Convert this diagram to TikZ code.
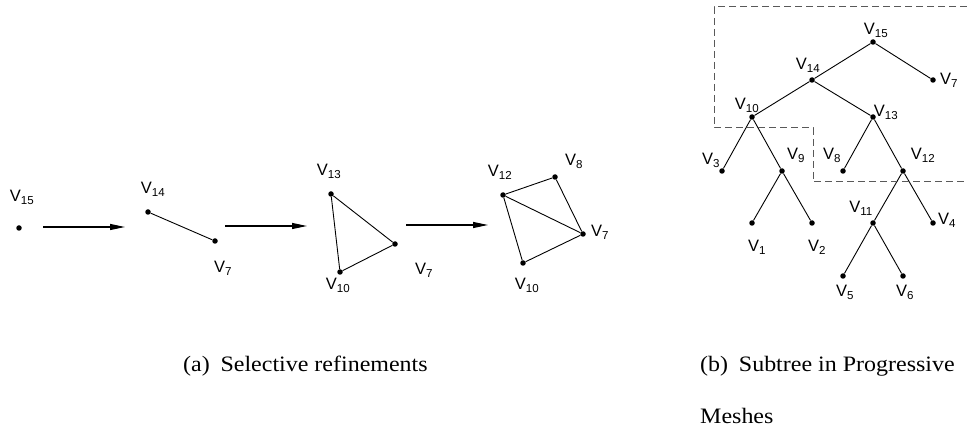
\documentclass[tikz,border=0pt]{standalone}
\usepackage{fontspec}
\setmainfont{Liberation Serif}
\newfontfamily\labfont{Liberation Sans}
\usepackage{tikz}
\usetikzlibrary{arrows.meta,positioning}
\newcommand{\vtx}[1]{V\textsubscript{#1}}
\newcommand{\captext}[1]{\scalebox{1.09}[1]{#1}}

\begin{document}
\begin{tikzpicture}[
    x=1pt, y=-1pt,
    vdot/.style={circle, fill=black, inner sep=0pt, minimum size=5.5pt},
    vlab/.style={anchor=base, inner sep=0pt, font=\labfont\fontsize{16.5}{18}\selectfont},
    edge/.style={line width=0.9pt},
    arr/.style={-{Triangle[length=15pt,width=6pt]}, line width=1.1pt},
    subtree/.style={draw=black!65, line width=1pt, dash pattern=on 7pt off 4pt},
    capt/.style={anchor=base west, inner sep=0pt, font=\fontsize{22}{25}\selectfont},
]
    \useasboundingbox (0,0) rectangle (967,430);

    % (a) Selective refinements
    \node[vdot] (a15) at (19,228) {};
    \node[vlab] (la15) at (22,202) {\vtx{15}};

    \node[vdot] (b14) at (148,212) {};
    \node[vdot] (b7) at (215,241) {};
    \node[vlab] (lb14) at (153,194) {\vtx{14}};
    \node[vlab] (lb7) at (223,273) {\vtx{7}};

    \node[vdot] (c13) at (331,194) {};
    \node[vdot] (c10) at (340,272) {};
    \node[vdot] (c7) at (395,244) {};
    \node[vlab] (lc13) at (329,176) {\vtx{13}};
    \node[vlab] (lc10) at (338,290) {\vtx{10}};
    \node[vlab] (lc7) at (424,275) {\vtx{7}};

    \node[vdot] (d12) at (503,195) {};
    \node[vdot] (d8) at (555,177) {};
    \node[vdot] (d7) at (583,234) {};
    \node[vdot] (d10) at (523,263) {};
    \node[vlab] (ld12) at (500,177) {\vtx{12}};
    \node[vlab] (ld8) at (574,166) {\vtx{8}};
    \node[vlab] (ld7) at (600,237) {\vtx{7}};
    \node[vlab] (ld10) at (527,290) {\vtx{10}};

    \draw[edge] (b14) -- (b7);
    \draw[edge] (c13) -- (c10) -- (c7) -- (c13);
    \draw[edge] (d12) -- (d8) -- (d7) -- (d10) -- (d12) -- (d7);

    % refinement arrows
    \coordinate (s1) at (43,227);  \coordinate (e1) at (125,227);
    \coordinate (s2) at (225,226); \coordinate (e2) at (307,226);
    \coordinate (s3) at (406,225); \coordinate (e3) at (488,225);
    \draw[arr] (s1) -- (e1);
    \draw[arr] (s2) -- (e2);
    \draw[arr] (s3) -- (e3);

    % (b) Subtree in Progressive Meshes
    \node[vdot] (t15) at (873,42) {};
    \node[vdot] (t14) at (812,80) {};
    \node[vdot] (t7) at (933,80) {};
    \node[vdot] (t10) at (752,117) {};
    \node[vdot] (t13) at (873,117) {};
    \node[vdot] (t3) at (722,171) {};
    \node[vdot] (t9) at (782,171) {};
    \node[vdot] (t8) at (843,171) {};
    \node[vdot] (t12) at (903,171) {};
    \node[vdot] (t1) at (752,223) {};
    \node[vdot] (t2) at (812,223) {};
    \node[vdot] (t11) at (873,223) {};
    \node[vdot] (t4) at (933,223) {};
    \node[vdot] (t5) at (843,276) {};
    \node[vdot] (t6) at (903,276) {};

    \node[vlab] (lt15) at (876,35) {\vtx{15}};
    \node[vlab] (lt14) at (808,70) {\vtx{14}};
    \node[vlab] (lt7) at (949,85) {\vtx{7}};
    \node[vlab] (lt10) at (747,110) {\vtx{10}};
    \node[vlab] (lt13) at (886,117) {\vtx{13}};
    \node[vlab] (lt3) at (711,165) {\vtx{3}};
    \node[vlab] (lt9) at (796,160) {\vtx{9}};
    \node[vlab] (lt8) at (832,160) {\vtx{8}};
    \node[vlab] (lt12) at (923,160) {\vtx{12}};
    \node[vlab] (lt11) at (861,213) {\vtx{11}};
    \node[vlab] (lt4) at (947,225) {\vtx{4}};
    \node[vlab] (lt1) at (757,252) {\vtx{1}};
    \node[vlab] (lt2) at (817,252) {\vtx{2}};
    \node[vlab] (lt5) at (845,297) {\vtx{5}};
    \node[vlab] (lt6) at (905,297) {\vtx{6}};

    \draw[edge] (t15) -- (t14);
    \draw[edge] (t15) -- (t7);
    \draw[edge] (t14) -- (t10);
    \draw[edge] (t14) -- (t13);
    \draw[edge] (t10) -- (t3);
    \draw[edge] (t10) -- (t9);
    \draw[edge] (t9) -- (t1);
    \draw[edge] (t9) -- (t2);
    \draw[edge] (t13) -- (t8);
    \draw[edge] (t13) -- (t12);
    \draw[edge] (t12) -- (t11);
    \draw[edge] (t12) -- (t4);
    \draw[edge] (t11) -- (t5);
    \draw[edge] (t11) -- (t6);

    % subtree outline
    \coordinate (o1) at (967,7);
    \coordinate (o2) at (714,7);
    \coordinate (o3) at (714,128);
    \coordinate (o4) at (813,128);
    \coordinate (o5) at (813,182);
    \coordinate (o6) at (967,182);
    \draw[subtree] (o1) -- (o2) -- (o3) -- (o4) -- (o5) -- (o6);

    % captions
    \node[capt] (capa) at (183,371) {\captext{(a)\hspace{0.45em}Selective refinements}};
    \node[capt] (capb) at (700,371) {\captext{(b)\hspace{0.45em}Subtree in Progressive}};
    \node[capt] (capb2) at (700,423) {\captext{Meshes}};
\end{tikzpicture}
\end{document}
